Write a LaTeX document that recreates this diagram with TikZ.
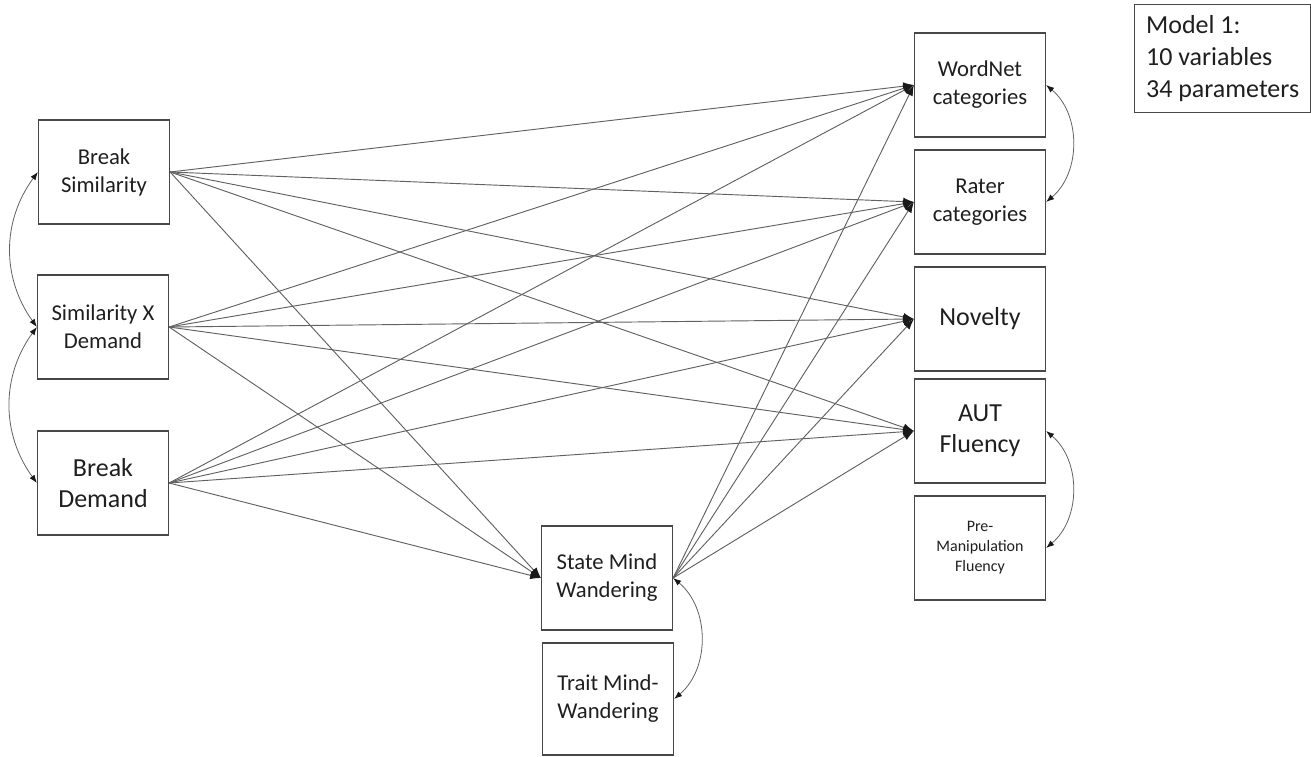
\documentclass[tikz,border=0pt]{standalone}
\usepackage{fontspec}
\setmainfont{Carlito}
\usetikzlibrary{arrows.meta}

\begin{document}
\begin{tikzpicture}[x=0.75pt, y=-0.75pt,
	var/.style={draw=black!72, line width=1.2pt, minimum width=98pt, minimum height=78pt, inner sep=0pt, align=center, text=black!88},
	smalltxt/.style={font=\fontsize{17}{21}\selectfont},
	bigtxt/.style={font=\fontsize{19.5}{23}\selectfont},
	reg/.style={draw=black!62, line width=0.7pt, -{Latex[length=8pt, width=6pt, color=black!90]}},
	cov/.style={draw=black!62, line width=0.6pt, {Latex[length=6pt, width=4.5pt, color=black!90]}-{Latex[length=6pt, width=4.5pt, color=black!90]}}]
\useasboundingbox (0, 0) rectangle (1311, 757);
\node[var, smalltxt] (bsim) at (104, 172) {Break\\Similarity};
\node[var, smalltxt] (sxd) at (103, 327) {Similarity X\\Demand};
\node[var, bigtxt] (bdem) at (103, 483) {Break\\Demand};
\node[var, smalltxt] (smw) at (607, 578) {State Mind\\Wandering};
\node[var, smalltxt, minimum height=84pt] (tmw) at (608, 699) {Trait Mind-\\Wandering};
\node[var, smalltxt] (wn) at (980, 85) {WordNet\\categories};
\node[var, smalltxt] (rater) at (980, 202) {Rater\\categories};
\node[var, bigtxt] (nov) at (980, 319) {Novelty};
\node[var, bigtxt] (aut) at (980, 431) {AUT\\Fluency};
\node[var, font=\fontsize{12}{15}\selectfont] (pre) at (980, 548) {Pre-\\Manipulation\\Fluency};
\node[draw=black!72, line width=0.9pt, minimum width=132pt, minimum height=81pt, inner sep=0pt, align=left, anchor=north west, text=black!88, font=\fontsize{19.5}{24}\selectfont] (model) at (1134, 4) {Model 1:\\10 variables\\34 parameters};
\draw[reg] (bsim.east) -- (wn.west);
\draw[reg] (bsim.east) -- (rater.west);
\draw[reg] (bsim.east) -- (nov.west);
\draw[reg] (bsim.east) -- (aut.west);
\draw[reg] (bsim.east) -- (smw.west);
\draw[reg] (sxd.east) -- (wn.west);
\draw[reg] (sxd.east) -- (rater.west);
\draw[reg] (sxd.east) -- (nov.west);
\draw[reg] (sxd.east) -- (aut.west);
\draw[reg] (sxd.east) -- (smw.west);
\draw[reg] (bdem.east) -- (wn.west);
\draw[reg] (bdem.east) -- (rater.west);
\draw[reg] (bdem.east) -- (nov.west);
\draw[reg] (bdem.east) -- (aut.west);
\draw[reg] (bdem.east) -- (smw.west);
\draw[reg] (smw.east) -- (wn.west);
\draw[reg] (smw.east) -- (rater.west);
\draw[reg] (smw.east) -- (nov.west);
\draw[reg] (smw.east) -- (aut.west);
\draw[cov] (bsim.west) to[bend right=36] (sxd.west);
\draw[cov] (sxd.west) to[bend right=36] (bdem.west);
\draw[cov] (wn.east) to[bend left=50] (rater.east);
\draw[cov] (aut.east) to[bend left=50] (pre.east);
\draw[cov] (smw.east) to[bend left=50] (tmw.east);
\end{tikzpicture}
\end{document}
